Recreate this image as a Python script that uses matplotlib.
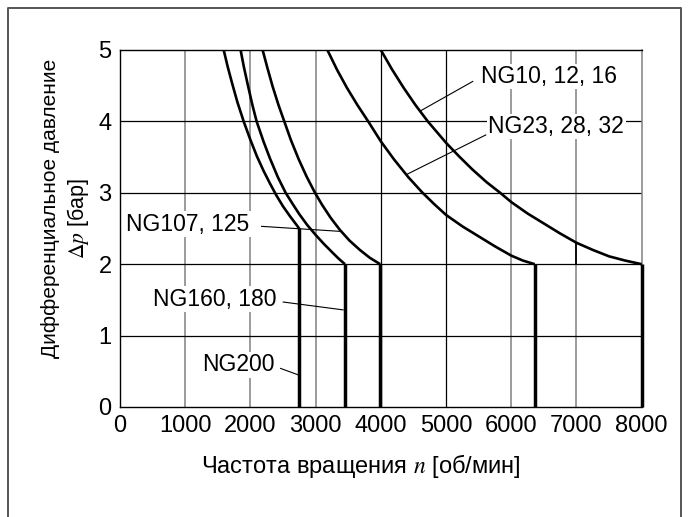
import matplotlib
matplotlib.use("Agg")
import matplotlib.pyplot as plt
from matplotlib.lines import Line2D

plt.rcParams['font.family'] = ['Liberation Sans', 'DejaVu Sans']
plt.rcParams['mathtext.fontset'] = 'stix'

# speed n [rpm] vs differential pressure dp [bar]
ng200_n = [1590, 1650, 1720, 1800, 1900, 2000, 2100, 2200, 2300, 2400, 2500, 2600, 2748]
ng200_p = [5.0, 4.77, 4.53, 4.27, 3.99, 3.74, 3.51, 3.31, 3.13, 2.96, 2.81, 2.68, 2.5]

ng160_n = [1849, 1900, 1960, 2030, 2095, 2200, 2300, 2420, 2540, 2650, 2750, 2870,
           3000, 3120, 3250, 3350, 3450]
ng160_p = [5.0, 4.76, 4.51, 4.23, 4.0, 3.72, 3.48, 3.22, 3.0, 2.84, 2.70, 2.55,
           2.41, 2.29, 2.17, 2.08, 2.0]

ng107_n = [2187, 2260, 2340, 2430, 2519, 2620, 2740, 2860, 2990, 3100, 3230, 3372,
           3520, 3678, 3830, 3990]
ng107_p = [5.0, 4.75, 4.49, 4.23, 4.0, 3.74, 3.47, 3.23, 3.0, 2.83, 2.65, 2.48,
           2.33, 2.20, 2.09, 2.0]

ng23_n = [3180, 3330, 3480, 3640, 3806, 4000, 4200, 4420, 4640, 4820, 5000, 5250,
          5500, 5750, 6000, 6180, 6360]
ng23_p = [5.0, 4.72, 4.47, 4.23, 4.0, 3.72, 3.47, 3.22, 3.0, 2.84, 2.69, 2.53,
          2.39, 2.25, 2.12, 2.05, 2.0]

ng10_n = [4000, 4170, 4350, 4530, 4720, 4860, 5000, 5200, 5400, 5620, 5830, 6000,
          6250, 6500, 6750, 7000, 7250, 7500, 7750, 8000]
ng10_p = [5.0, 4.73, 4.47, 4.23, 4.0, 3.85, 3.70, 3.51, 3.33, 3.15, 3.0, 2.87,
          2.71, 2.57, 2.43, 2.30, 2.20, 2.11, 2.05, 2.0]

curves = [(ng200_n, ng200_p), (ng160_n, ng160_p), (ng107_n, ng107_p),
          (ng23_n, ng23_p), (ng10_n, ng10_p)]

x_ticks = [0, 1000, 2000, 3000, 4000, 5000, 6000, 7000, 8000]
y_ticks = [0, 1, 2, 3, 4, 5]
gray_grid = [1000, 2000, 3000, 6000, 7000]
black_grid = [4000, 5000]

# label text, text anchor (n, dp), leader start, leader end
labels = [
    ("NG10, 12, 16", (5540, 4.63), (5410, 4.56), (4613, 4.15)),
    ("NG23, 28, 32", (5650, 3.93), (5609, 3.81), (4403, 3.26)),
    ("NG107, 125", (90, 2.56), (2171, 2.53), (3372, 2.46)),
    ("NG160, 180", (500, 1.51), (2503, 1.47), (3422, 1.36)),
    ("NG200", (1260, 0.59), (2463, 0.54), (2733, 0.45)),
]

fig = plt.figure(figsize=(6.89, 5.17), dpi=100)
ax = fig.add_axes([0.1742, 0.2128, 0.7571, 0.6905])

for x in gray_grid:
    ax.axvline(x, color='#808080', lw=1.1, zorder=1)
for x in black_grid:
    ax.axvline(x, color='black', lw=0.9, zorder=1)
for y in y_ticks[1:-1]:
    ax.axhline(y, color='black', lw=0.9, zorder=1)

for n, p in curves:
    ax.plot(n, p, color='black', lw=1.9, zorder=4, solid_capstyle='butt',
            solid_joinstyle='round')
    ax.plot([n[-1], n[-1]], [p[-1], 0], color='black', lw=2.5, zorder=4,
            clip_on=False, solid_capstyle='butt')

# dark stub of the 7000 line between the NG10 curve and 2 bar
i7 = ng10_n.index(7000)
ax.vlines(7000, 2, ng10_p[i7], color='black', lw=1.3, zorder=2)

for text, (tx, ty), (x0, y0), (x1, y1) in labels:
    ax.text(tx, ty, text, fontsize=16.5, ha='left', va='center', zorder=3,
            bbox=dict(fc='white', ec='none', pad=1.0))
    ax.plot([x0, x1], [y0, y1], color='black', lw=0.8, zorder=3)

ax.set_xlim(0, 8000)
ax.set_ylim(0, 5)
ax.set_xticks(x_ticks)
ax.set_yticks(y_ticks)
ax.tick_params(length=0, labelsize=17, pad=6)
for side in ['left', 'bottom', 'top']:
    ax.spines[side].set_color('black')
    ax.spines[side].set_linewidth(1.0)
ax.spines['right'].set_color('#808080')
ax.spines['right'].set_linewidth(1.1)

fig.text(0.073, 0.596, "Дифференциальное давление", rotation=90,
         ha='center', va='center', fontsize=15)
fig.text(0.113, 0.578, r"$\mathit{\Delta p}$ [бар]", rotation=90,
         ha='center', va='center', fontsize=15.5)
fig.text(0.524, 0.0986, r"Частота вращения $\mathit{n}$ [об/мин]",
         ha='center', va='center', fontsize=17)

# outer frame (open at the bottom)
fig.add_artist(Line2D([0.0116, 0.0116, 0.9884, 0.9884], [0.0, 0.9845, 0.9845, 0.0],
                      transform=fig.transFigure, color='#555555', lw=1.4))

fig.savefig("out.png", dpi=100)
